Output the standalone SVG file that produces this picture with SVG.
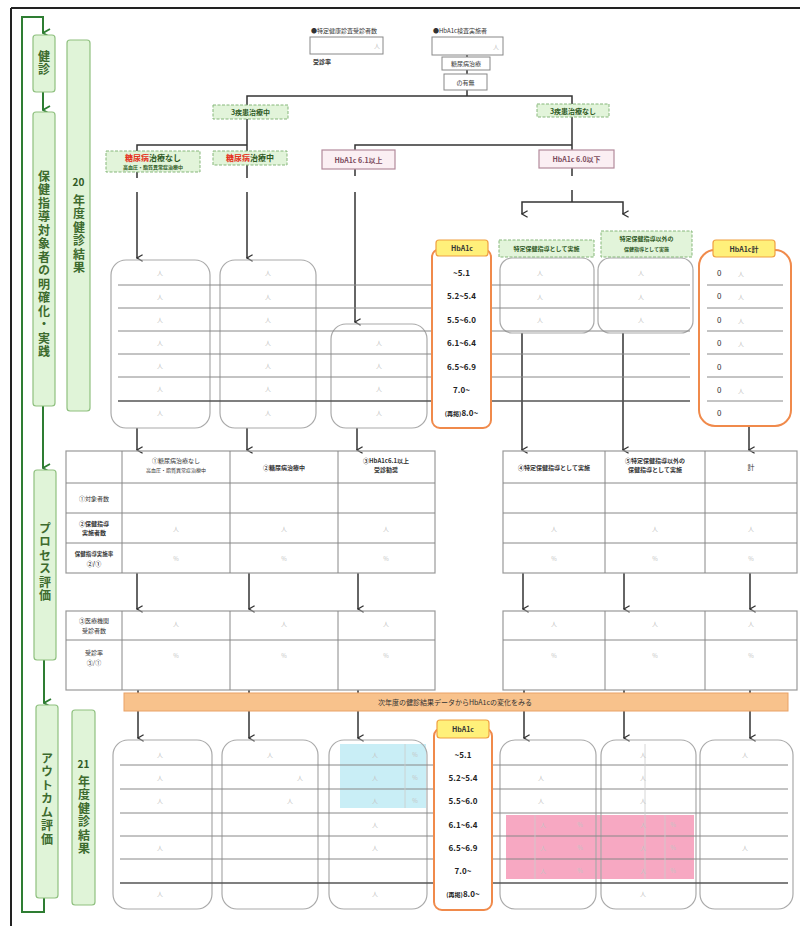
<svg xmlns="http://www.w3.org/2000/svg" width="801" height="926" viewBox="0 0 801 926">
<defs>
<style>
text{font-family:"Noto Sans CJK JP","Noto Sans",sans-serif;fill:#333}
.b{font-weight:700}
.s6{font-size:6px}.s7{font-size:7px}.s8{font-size:8px}.s9{font-size:9px}.s10{font-size:10px}
text.faint,.faint text{fill:#c4c4c4;font-size:6px}
.side{fill:#e0f4d8;stroke:#8fc07f;stroke-width:1.2}
.sidet{fill:#3d6b2e;font-weight:700;font-size:12px;writing-mode:vertical-rl;letter-spacing:1.5px}
.grn{fill:#e2f4da;stroke:#86b77a;stroke-width:1;stroke-dasharray:3 1.5}
.grnt{fill:#2f5a25;font-weight:700}
.pnk{fill:#fbeff3;stroke:#b38a9c;stroke-width:1.2}
.pnkt{fill:#7a4a5c;font-weight:700}
.plain{fill:#fff;stroke:#888;stroke-width:1}
.rbox{fill:none;stroke:#aaa;stroke-width:1.2}
.org{fill:#fff;stroke:#f08a4b;stroke-width:2}
.yel{fill:#fff07a;stroke:#f0a040;stroke-width:1.2}
.row{stroke:#888;stroke-width:1}
.grid{fill:none;stroke:#999;stroke-width:1.2}
.wire{fill:none;stroke:#333;stroke-width:1.5}
.lvl{fill:#222;font-weight:700;font-size:8px;text-anchor:middle}
.c{text-anchor:middle}
</style>
<marker id="ah" viewBox="0 0 10 10" refX="5" refY="9" markerWidth="8" markerHeight="8" orient="auto-start-reverse" markerUnits="userSpaceOnUse">
<path d="M1,2 L5,9 L9,2" fill="none" stroke="#333" stroke-width="1.6"/>
</marker>
<marker id="ahg" viewBox="0 0 10 10" refX="5" refY="9" markerWidth="10" markerHeight="10" orient="auto" markerUnits="userSpaceOnUse">
<path d="M1,2 L5,9 L9,2" fill="none" stroke="#2e7d32" stroke-width="1.8"/>
</marker>
</defs>

<rect width="801" height="926" fill="#fff"/>
<!-- outer frame -->
<path d="M11,8 H800 M11,8 V926" stroke="#222" stroke-width="2" fill="none"/>

<!-- stage flow on the left -->
<g id="stage-flow">
<path d="M44,898 V912 H22 V17 H43 V33" fill="none" stroke="#2e7d32" stroke-width="2" marker-end="url(#ahg)"/>
<path d="M43,92 V110" fill="none" stroke="#2e7d32" stroke-width="2" marker-end="url(#ahg)"/>
<path d="M43,406 V468" fill="none" stroke="#2e7d32" stroke-width="2" marker-end="url(#ahg)"/>
<path d="M44,660 V703" fill="none" stroke="#2e7d32" stroke-width="2" marker-end="url(#ahg)"/>
</g>
<g id="stage-kenshin"><rect class="side" x="33" y="35" width="22" height="57" rx="3"/><text class="sidet" x="44" y="50">健診</text></g>
<g id="stage-taisho"><rect class="side" x="33" y="112" width="22" height="294" rx="3"/><text class="sidet" x="44" y="170">保健指導対象者の明確化・実践</text></g>
<g id="stage-process"><rect class="side" x="34" y="470" width="22" height="190" rx="3"/><text class="sidet" x="45" y="522">プロセス評価</text></g>
<g id="stage-outcome"><rect class="side" x="36" y="705" width="22" height="193" rx="3"/><text class="sidet" x="47" y="752">アウトカム評価</text></g>
<g id="year-20"><rect class="side" x="67" y="40" width="23" height="371" rx="3"/><text class="grnt s10 c" x="78.5" y="186">20</text><text class="sidet" x="79" y="194">年度健診結果</text></g>
<g id="year-21"><rect class="side" x="72" y="710" width="23" height="195" rx="3"/><text class="grnt s10 c" x="83.5" y="768">21</text><text class="sidet" x="84" y="775">年度健診結果</text></g>

<!-- connectors -->
<g id="connectors">
<path class="wire" d="M467,55 V57 M467,70 V74 M467,90 V96"/>
<path class="wire" d="M247,105 V96 H572 V104"/>
<path class="wire" d="M247,119 V151 M137,151 V145 H247"/>
<path class="wire" d="M572,117 V150 M355,150 V145 H572"/>
<path class="wire" d="M137,172 V178 M247,165 V178 M355,169 V176 M572,168 V176"/>
<path class="wire" d="M137,192 V258" marker-end="url(#ah)"/>
<path class="wire" d="M247,192 V258" marker-end="url(#ah)"/>
<path class="wire" d="M355,192 V322" marker-end="url(#ah)"/>
<path class="wire" d="M572,190 V202"/>
<path class="wire" stroke-width="2" d="M522,214 V202 H623 V214" marker-start="url(#ah)" marker-end="url(#ah)"/>
<path class="wire" d="M522,333 V450" marker-end="url(#ah)"/>
<path class="wire" d="M623,333 V450" marker-end="url(#ah)"/>
<path class="wire" d="M137,428 V450" marker-end="url(#ah)"/>
<path class="wire" d="M247,428 V450" marker-end="url(#ah)"/>
<path class="wire" d="M357,428 V450" marker-end="url(#ah)"/>
<path class="wire" d="M749,426 V450" marker-end="url(#ah)"/>
<path class="wire" d="M137,573 V609" marker-end="url(#ah)"/>
<path class="wire" d="M249,573 V609" marker-end="url(#ah)"/>
<path class="wire" d="M358,573 V609" marker-end="url(#ah)"/>
<path class="wire" d="M523,573 V609" marker-end="url(#ah)"/>
<path class="wire" d="M624,573 V609" marker-end="url(#ah)"/>
<path class="wire" d="M750,573 V609" marker-end="url(#ah)"/>
<path class="wire" d="M138,690 V738" marker-end="url(#ah)"/>
<path class="wire" d="M249,690 V738" marker-end="url(#ah)"/>
<path class="wire" d="M358,690 V738" marker-end="url(#ah)"/>
<path class="wire" d="M524,690 V738" marker-end="url(#ah)"/>
<path class="wire" d="M624,690 V738" marker-end="url(#ah)"/>
<path class="wire" d="M750,690 V738" marker-end="url(#ah)"/>
</g>

<!-- top: examinee counts -->
<g id="n-jushinsha">
<text class="s6" x="311" y="33">●特定健康診査受診者数</text>
<rect class="plain" x="310" y="37" width="73" height="17"/>
<text class="faint" x="374" y="48">人</text>
<text class="b s6" x="313" y="64">受診率</text>
</g>
<g id="n-hba1c-jushin">
<text class="s6" x="433" y="33">●HbA1c検査実施者</text>
<rect class="plain" x="432" y="37" width="71" height="18"/>
<text class="faint" x="493" y="49">人</text>
</g>
<g id="n-chiryo"><rect class="plain" x="442" y="57" width="48" height="13"/><text class="s6 c" x="466" y="66">糖尿病治療</text></g>
<g id="n-umu"><rect class="plain" x="444" y="74" width="43" height="16"/><text class="s6 c" x="465.5" y="85">の有無</text></g>

<g id="n-3shikkan-ari"><rect class="grn" x="213" y="105" width="75" height="14"/><text class="grnt s7 c" x="250.5" y="115">3疾患治療中</text></g>
<g id="n-3shikkan-nashi"><rect class="grn" x="537" y="104" width="72" height="13"/><text class="grnt s7 c" x="573" y="113.5">3疾患治療なし</text></g>
<g id="n-tonyo-nashi"><rect class="grn" x="106" y="151" width="94" height="21"/>
<text class="grnt s8 c" x="153" y="161"><tspan fill="#e53020">糖尿病</tspan>治療なし</text>
<text class="grnt c" style="font-size:5px" x="153" y="169">高血圧・脂質異常症治療中</text></g>
<g id="n-tonyo-ari"><rect class="grn" x="213" y="151" width="74" height="14"/><text class="grnt s8 c" x="250" y="161"><tspan fill="#e53020">糖尿病</tspan>治療中</text></g>
<g id="n-hba1c-over"><rect class="pnk" x="322" y="150" width="73" height="19"/><text class="pnkt s7 c" x="358.5" y="162.5">HbA1c 6.1以上</text></g>
<g id="n-hba1c-under"><rect class="pnk" x="539" y="150" width="75" height="18"/><text class="pnkt s7 c" x="576.5" y="162">HbA1c 6.0以下</text></g>

<!-- 20年度 result columns -->
<g id="results-20">
<rect class="rbox" x="111" y="260" width="99" height="168" rx="15"/>
<rect class="rbox" x="220" y="260" width="96" height="168" rx="15"/>
<rect class="rbox" x="331" y="324" width="96" height="104" rx="15"/>
<rect class="rbox" x="500" y="258" width="94" height="75" rx="12"/>
<rect class="rbox" x="598" y="258" width="95" height="75" rx="12"/>
<path class="row" d="M118,285 H690 M118,308 H690 M118,331 H690 M118,354 H690 M118,377 H690"/>
<path d="M118,401 H690" stroke="#555" stroke-width="1.3"/>
<g class="faint">
<text x="160" y="275" text-anchor="middle">人</text><text x="160" y="299" text-anchor="middle">人</text><text x="160" y="322" text-anchor="middle">人</text><text x="160" y="345" text-anchor="middle">人</text><text x="160" y="368" text-anchor="middle">人</text><text x="160" y="391" text-anchor="middle">人</text><text x="160" y="415" text-anchor="middle">人</text>
<text x="268" y="275" text-anchor="middle">人</text><text x="268" y="299" text-anchor="middle">人</text><text x="268" y="322" text-anchor="middle">人</text><text x="268" y="345" text-anchor="middle">人</text><text x="268" y="368" text-anchor="middle">人</text><text x="268" y="391" text-anchor="middle">人</text><text x="268" y="415" text-anchor="middle">人</text>
<text x="379" y="345" text-anchor="middle">人</text><text x="379" y="368" text-anchor="middle">人</text><text x="379" y="391" text-anchor="middle">人</text><text x="379" y="415" text-anchor="middle">人</text>
<text x="540" y="275" text-anchor="middle">人</text><text x="540" y="299" text-anchor="middle">人</text><text x="540" y="322" text-anchor="middle">人</text>
<text x="641" y="275" text-anchor="middle">人</text><text x="641" y="299" text-anchor="middle">人</text><text x="641" y="322" text-anchor="middle">人</text>
</g>
</g>
<g id="n-hokenshido"><rect class="grn" x="499" y="240" width="95" height="17"/><text class="grnt s6 c" x="546.5" y="251">特定保健指導として実施</text></g>
<g id="n-igai"><rect class="grn" x="601" y="231" width="91" height="26"/><text class="grnt s6 c" x="646.5" y="241">特定保健指導以外の</text><text class="grnt c" style="font-size:5px" x="646.5" y="251">保健指導として実施</text></g>

<g id="n-hba1c-20">
<rect class="org" x="432" y="249" width="59" height="179" rx="8"/>
<rect class="yel" x="436" y="240" width="52" height="16" rx="3"/>
<text class="b s7 c" x="462" y="251">HbA1c</text>
<text class="lvl" x="461.5" y="276">~5.1</text>
<text class="lvl" x="461.5" y="299">5.2~5.4</text>
<text class="lvl" x="461.5" y="323">5.5~6.0</text>
<text class="lvl" x="461.5" y="346">6.1~6.4</text>
<text class="lvl" x="461.5" y="370">6.5~6.9</text>
<text class="lvl" x="461.5" y="393">7.0~</text>
<text class="lvl" x="461.5" y="416"><tspan style="font-size:6px">(再掲)</tspan>8.0~</text>
</g>
<g id="n-hba1c-total">
<rect class="org" x="699" y="250" width="92" height="176" rx="16"/>
<path class="row" d="M707,285 H783 M707,308 H783 M707,331 H783 M707,354 H783 M707,377 H783 M707,401 H783"/>
<rect class="yel" x="713" y="240" width="62" height="17" rx="3"/>
<text class="b s7 c" x="744" y="252">HbA1c計</text>
<g class="s8" fill="#666"><text x="717" y="276" fill="#666">0</text><text x="717" y="299" fill="#666">0</text><text x="717" y="323" fill="#666">0</text><text x="717" y="346" fill="#666">0</text><text x="717" y="370" fill="#666">0</text><text x="717" y="393" fill="#666">0</text><text x="717" y="416" fill="#666">0</text></g>
<g class="faint"><text x="738" y="276">人</text><text x="738" y="299">人</text><text x="738" y="323">人</text><text x="738" y="346">人</text><text x="738" y="393">人</text></g>
</g>

<!-- process evaluation tables -->
<g id="table-shido-left">
<rect class="grid" x="66" y="451" width="369" height="122"/>
<path class="row" d="M122,451 V573 M230,451 V573 M338,451 V573 M66,483 H435 M66,513 H435 M66,543 H435"/>
<text class="s6 c" x="176" y="463">①糖尿病治療なし</text>
<text class="c" style="font-size:5px" x="176" y="472">高血圧・脂質異常症治療中</text>
<text class="b s6 c" x="284" y="470">②糖尿病治療中</text>
<text class="b s6 c" x="386" y="463">③HbA1c6.1以上</text>
<text class="b s6 c" x="386" y="472">受診勧奨</text>
<text class="s6 c" x="94" y="501" fill="#777">①対象者数</text>
<text class="b s6 c" x="94" y="526">②保健指導</text><text class="b s6 c" x="94" y="535">実施者数</text>
<text class="b c" style="font-size:5.5px" x="94" y="556">保健指導実施率</text><text class="b s6 c" x="94" y="566">②/①</text>
<g class="faint"><text x="176" y="531" text-anchor="middle">人</text><text x="284" y="531" text-anchor="middle">人</text><text x="386" y="531" text-anchor="middle">人</text>
<text x="176" y="561" text-anchor="middle">%</text><text x="284" y="561" text-anchor="middle">%</text><text x="386" y="561" text-anchor="middle">%</text></g>
</g>
<g id="table-shido-right">
<rect class="grid" x="503" y="451" width="294" height="122"/>
<path class="row" d="M605,451 V573 M705,451 V573 M503,483 H797 M503,513 H797 M503,543 H797"/>
<text class="b s6 c" x="554" y="470">④特定保健指導として実施</text>
<text class="b s6 c" x="655" y="463">⑤特定保健指導以外の</text>
<text class="b s6 c" x="655" y="472">保健指導として実施</text>
<text class="s7 c" x="751" y="470">計</text>
<g class="faint"><text x="554" y="531" text-anchor="middle">人</text><text x="655" y="531" text-anchor="middle">人</text><text x="751" y="531" text-anchor="middle">人</text>
<text x="554" y="561" text-anchor="middle">%</text><text x="655" y="561" text-anchor="middle">%</text><text x="751" y="561" text-anchor="middle">%</text></g>
</g>
<g id="table-jushin-left">
<rect class="grid" x="66" y="611" width="369" height="79"/>
<path class="row" d="M122,611 V690 M230,611 V690 M338,611 V690 M66,640 H435"/>
<text class="s6 c" x="94" y="623">③医療機関</text><text class="s6 c" x="94" y="633">受診者数</text>
<text class="s6 c" x="94" y="655">受診率</text><text class="s6 c" x="94" y="665">③/①</text>
<g class="faint"><text x="176" y="626" text-anchor="middle">人</text><text x="284" y="626" text-anchor="middle">人</text><text x="386" y="626" text-anchor="middle">人</text>
<text x="176" y="658" text-anchor="middle">%</text><text x="284" y="658" text-anchor="middle">%</text><text x="386" y="658" text-anchor="middle">%</text></g>
</g>
<g id="table-jushin-right">
<rect class="grid" x="503" y="611" width="294" height="79"/>
<path class="row" d="M605,611 V690 M705,611 V690 M503,640 H797"/>
<g class="faint"><text x="554" y="626" text-anchor="middle">人</text><text x="655" y="626" text-anchor="middle">人</text><text x="751" y="626" text-anchor="middle">人</text>
<text x="554" y="658" text-anchor="middle">%</text><text x="655" y="658" text-anchor="middle">%</text><text x="751" y="658" text-anchor="middle">%</text></g>
</g>

<!-- next-year comparison band -->
<g id="n-band">
<rect x="124" y="693" width="664" height="18" fill="#f8c28c" stroke="#e9a266" stroke-width="1"/>
<text class="s7 c" x="455" y="705" fill="#7a4a1e">次年度の健診結果データからHbA1cの変化をみる</text>
</g>

<!-- 21年度 result columns -->
<g id="results-21">
<rect x="340" y="744" width="86" height="64" fill="#c9eef6"/>
<rect x="506" y="815" width="188" height="64" fill="#f7a8c2"/>
<rect class="rbox" x="113" y="740" width="99" height="169" rx="15"/>
<rect class="rbox" x="222" y="740" width="96" height="169" rx="15"/>
<rect class="rbox" x="329" y="740" width="98" height="169" rx="15"/>
<rect class="rbox" x="500" y="740" width="96" height="169" rx="15"/>
<rect class="rbox" x="601" y="740" width="95" height="169" rx="15"/>
<rect class="rbox" x="700" y="740" width="93" height="169" rx="15"/>
<path class="row" d="M120,765 H788 M120,789 H788 M120,813 H788 M120,836 H788 M120,859 H788"/>
<path d="M120,883 H788" stroke="#555" stroke-width="1.3"/>
<path d="M405,744 V808 M535,815 V879 M665,815 V879 M645,744 V879" stroke="#ccc" stroke-width="0.8"/>
<g class="faint">
<text x="160" y="757" text-anchor="middle">人</text><text x="160" y="780" text-anchor="middle">人</text><text x="160" y="803" text-anchor="middle">人</text><text x="160" y="850" text-anchor="middle">人</text><text x="160" y="896" text-anchor="middle">人</text>
<text x="270" y="757" text-anchor="middle">人</text><text x="300" y="780" text-anchor="middle">人</text><text x="290" y="803" text-anchor="middle">人</text>
<text x="375" y="757" text-anchor="middle">人</text><text x="375" y="780" text-anchor="middle">人</text><text x="375" y="803" text-anchor="middle">人</text><text x="375" y="827" text-anchor="middle">人</text><text x="375" y="850" text-anchor="middle">人</text><text x="375" y="896" text-anchor="middle">人</text>
<text x="415" y="757" text-anchor="middle">%</text><text x="415" y="780" text-anchor="middle">%</text><text x="415" y="803" text-anchor="middle">%</text>
<text x="541" y="780" text-anchor="middle">人</text><text x="541" y="803" text-anchor="middle">人</text>
<text x="543" y="827" text-anchor="middle">人</text><text x="543" y="850" text-anchor="middle">人</text><text x="543" y="873" text-anchor="middle">人</text>
<text x="580" y="827" text-anchor="middle">%</text><text x="580" y="850" text-anchor="middle">%</text><text x="580" y="873" text-anchor="middle">%</text>
<text x="643" y="757" text-anchor="middle">人</text><text x="643" y="780" text-anchor="middle">人</text><text x="643" y="803" text-anchor="middle">人</text><text x="643" y="827" text-anchor="middle">人</text><text x="643" y="850" text-anchor="middle">人</text><text x="643" y="873" text-anchor="middle">人</text><text x="643" y="896" text-anchor="middle">人</text>
<text x="673" y="827" text-anchor="middle">%</text><text x="673" y="850" text-anchor="middle">%</text><text x="673" y="873" text-anchor="middle">%</text>
<text x="745" y="757" text-anchor="middle">人</text><text x="745" y="850" text-anchor="middle">人</text>
</g>
</g>
<g id="n-hba1c-21">
<rect class="org" x="434" y="728" width="58" height="182" rx="8"/>
<rect class="yel" x="437" y="720" width="52" height="18" rx="3"/>
<text class="b s7 c" x="463" y="732">HbA1c</text>
<text class="lvl" x="463" y="758">~5.1</text>
<text class="lvl" x="463" y="781">5.2~5.4</text>
<text class="lvl" x="463" y="804">5.5~6.0</text>
<text class="lvl" x="463" y="828">6.1~6.4</text>
<text class="lvl" x="463" y="851">6.5~6.9</text>
<text class="lvl" x="463" y="874">7.0~</text>
<text class="lvl" x="463" y="897"><tspan style="font-size:6px">(再掲)</tspan>8.0~</text>
</g>
</svg>
